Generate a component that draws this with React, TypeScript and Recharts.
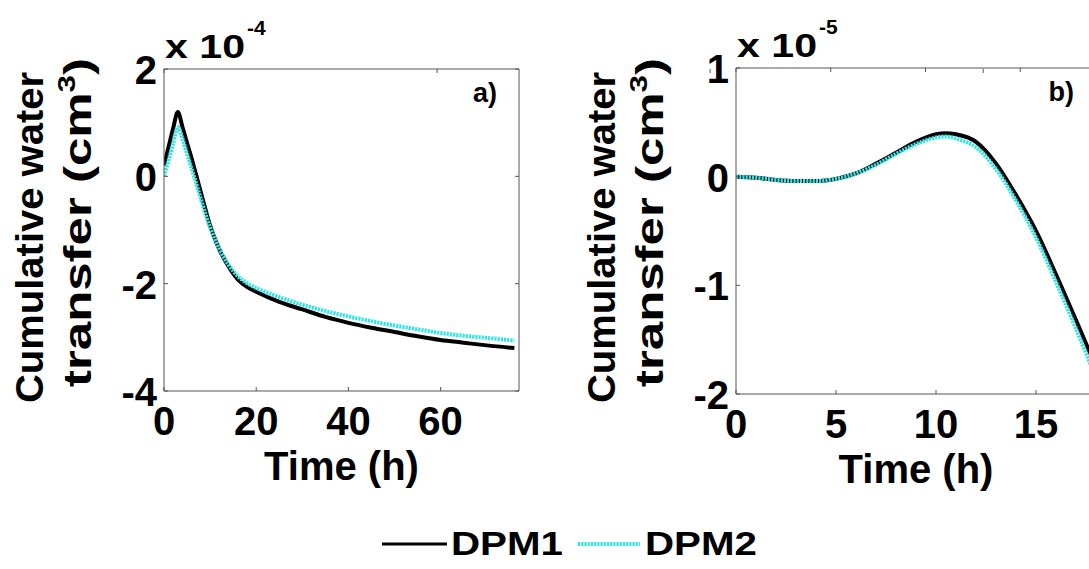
import React from "react";
import { LineChart, Line, XAxis, YAxis, Legend } from "recharts";

const FONT = "'Liberation Sans', Arial, Helvetica, sans-serif";
const AXIS = "#555";

// panel a) 0-77 h
const timeA = [0, 1, 2, 3, 4, 5, 6, 7, 8, 9, 10, 12, 14, 16, 18, 20, 25, 30, 35, 40, 45, 50, 55, 60, 65, 70, 76];
const dpm1A = [0.2, 0.55, 0.9, 1.2, 0.92, 0.62, 0.33, 0.02, -0.3, -0.62, -0.92, -1.36, -1.68, -1.92, -2.06, -2.15, -2.34, -2.48, -2.62, -2.73, -2.82, -2.9, -2.98, -3.05, -3.1, -3.15, -3.2];
const dpm2A = [0.0, 0.3, 0.62, 0.92, 0.7, 0.42, 0.14, -0.14, -0.42, -0.7, -0.95, -1.35, -1.65, -1.86, -1.99, -2.08, -2.25, -2.39, -2.51, -2.61, -2.7, -2.78, -2.85, -2.92, -2.97, -3.01, -3.06];

// panel b) 0-18 h
const timeB = [0, 1, 2, 3, 4, 5, 6, 7, 8, 9, 10, 10.5, 11, 12, 13, 14, 15, 16, 17, 18];
const dpm1B = [0, -0.01, -0.03, -0.04, -0.04, -0.02, 0.03, 0.12, 0.22, 0.32, 0.39, 0.4, 0.39, 0.32, 0.12, -0.17, -0.5, -0.9, -1.32, -1.75];
const dpm2B = [0, -0.01, -0.03, -0.04, -0.04, -0.02, 0.03, 0.11, 0.21, 0.3, 0.36, 0.37, 0.35, 0.27, 0.07, -0.22, -0.56, -0.97, -1.4, -1.85];

const xTicksA = [0, 20, 40, 60];
const yTicksA = [-4, -2, 0, 2];
const xTicksB = [0, 5, 10, 15];
const yTicksB = [-2, -1, 0, 1];

const series = [
  { key: "dpm1", name: "DPM1", color: "#000000", width: 4, dash: undefined as string | undefined },
  { key: "dpm2", name: "DPM2", color: "#33E3E3", width: 4, dash: "2.2 1" },
];

const dataA = timeA.map((t, i) => ({ t, dpm1: dpm1A[i], dpm2: dpm2A[i] }));
const dataB = timeB.map((t, i) => ({ t, dpm1: dpm1B[i], dpm2: dpm2B[i] }));

const tickFont = { fontFamily: FONT, fontWeight: 700, fontSize: 40, fill: "#000" };

function tick(side: "bottom" | "top" | "left" | "right", label: boolean) {
  return (p: any) => {
    const { x, y, payload } = p;
    const L = 4;
    let ln = null;
    if (side === "bottom") ln = <line x1={x} y1={y} x2={x} y2={y - L} stroke={AXIS} />;
    if (side === "top") ln = <line x1={x} y1={y} x2={x} y2={y + L} stroke={AXIS} />;
    if (side === "left") ln = <line x1={x} y1={y} x2={x + L} y2={y} stroke={AXIS} />;
    if (side === "right") ln = <line x1={x} y1={y} x2={x - L} y2={y} stroke={AXIS} />;
    return (
      <g>
        {ln}
        {label && side === "bottom" && (
          <text x={x} y={y + 44} textAnchor="middle" {...tickFont}>{payload.value}</text>
        )}
        {label && side === "left" && (
          <text x={x - 7} y={y + 15} textAnchor="end" {...tickFont}>{payload.value}</text>
        )}
      </g>
    );
  };
}

const renderLegend = (props: any) => {
  const items = (props.payload || []).map((p: any) => series.find((s) => s.name === p.value)!);
  const pos = [
    { x1: 382, x2: 447, tx: 451 },
    { x1: 578, x2: 640, tx: 645 },
  ];
  return (
    <svg width={1089} height={50}>
      {items.map((s: any, i: number) => (
        <g key={s.key}>
          <line x1={pos[i].x1} y1={29} x2={pos[i].x2} y2={29} stroke={s.color} strokeWidth={s.dash ? 4 : 3} strokeDasharray={s.dash} />
          <text x={pos[i].tx} y={40} fontFamily={FONT} fontWeight={700} fontSize={33} textLength={112} lengthAdjust="spacingAndGlyphs" fill="#000">
            {s.name}
          </text>
        </g>
      ))}
    </svg>
  );
};

interface PanelProps {
  data: { t: number; dpm1: number; dpm2: number }[];
  xDomain: [number, number];
  xTicks: number[];
  yDomain: [number, number];
  yTicks: number[];
  left: number;
  right: number;
  top: number;
  bottom: number;
  width: number;
  exponent: string;
  tag: string;
  legend?: boolean;
}

function Panel(p: PanelProps) {
  const H = 569;
  const cy1 = 237.5;
  const cy2 = 222.5;
  const lx1 = p.left - 121;
  const lx2 = p.left - 73;
  return (
    <div style={{ position: "absolute", left: 0, top: 0 }}>
      <LineChart
        width={p.width}
        height={H}
        data={p.data}
        margin={{ left: p.left - 1, right: p.width - p.right - 1, top: p.top - 1, bottom: H - p.bottom - 1 }}
      >
        <XAxis dataKey="t" type="number" domain={p.xDomain} ticks={p.xTicks} allowDataOverflow height={1} tickSize={0} tickMargin={0} tickLine={false} axisLine={{ stroke: AXIS }} tick={tick("bottom", true)} interval={0} />
        <XAxis xAxisId="top" orientation="top" type="number" domain={p.xDomain} ticks={p.xTicks} allowDataOverflow height={1} tickSize={0} tickMargin={0} tickLine={false} axisLine={{ stroke: AXIS }} tick={tick("top", false)} interval={0} />
        <YAxis type="number" domain={p.yDomain} ticks={p.yTicks} allowDataOverflow width={1} tickSize={0} tickMargin={0} tickLine={false} axisLine={{ stroke: AXIS }} tick={tick("left", true)} interval={0} />
        <YAxis yAxisId="right" orientation="right" type="number" domain={p.yDomain} ticks={p.yTicks} allowDataOverflow width={1} tickSize={0} tickMargin={0} tickLine={false} axisLine={{ stroke: AXIS }} tick={tick("right", false)} interval={0} />
        {series.map((s) => (
          <Line
            key={s.key}
            type="monotone"
            dataKey={s.key}
            name={s.name}
            stroke={s.color}
            strokeWidth={s.width}
            strokeDasharray={s.dash}
            dot={false}
            activeDot={false}
            isAnimationActive={false}
          />
        ))}
        {p.legend && (
          <Legend
            layout="horizontal"
            verticalAlign="middle"
            align="center"
            content={renderLegend}
            wrapperStyle={{ left: 0, top: 515, width: 1089, height: 50 }}
          />
        )}
        {/* multiplier */}
        <text x={p.left + 1} y={p.top - 11} fontFamily={FONT} fontWeight={700} fontSize={34} textLength={80} lengthAdjust="spacingAndGlyphs" fill="#000">x 10</text>
        <text x={p.left + 83} y={p.top - 34} fontFamily={FONT} fontWeight={700} fontSize={21} fill="#000">{p.exponent}</text>
        {/* panel tag */}
        <text x={p.right - 22} y={p.top + 33} textAnchor="end" fontFamily={FONT} fontWeight={700} fontSize={27} fill="#000">{p.tag}</text>
        {/* y label */}
        <text x={lx1} y={cy1} transform={`rotate(-90 ${lx1} ${cy1})`} textAnchor="middle" fontFamily={FONT} fontWeight={700} fontSize={39} textLength={331} lengthAdjust="spacingAndGlyphs" fill="#000">
          Cumulative water
        </text>
        <text x={lx2} y={cy2} transform={`rotate(-90 ${lx2} ${cy2})`} textAnchor="middle" fontFamily={FONT} fontWeight={700} fontSize={39} textLength={329} lengthAdjust="spacingAndGlyphs" fill="#000">
          transfer (cm<tspan fontSize={24} dy={-16}>3</tspan><tspan dy={16}>)</tspan>
        </text>
        {/* x label */}
        <text x={(p.left + p.right) / 2} y={p.bottom + 89} textAnchor="middle" fontFamily={FONT} fontWeight={700} fontSize={40} fill="#000">
          Time (h)
        </text>
      </LineChart>
    </div>
  );
}

export default function App() {
  return (
    <div style={{ position: "fixed", left: 0, top: 0, width: 1089, height: 569, overflow: "hidden", background: "#fff" }}>
      <Panel data={dataA} xDomain={[0, 77]} xTicks={xTicksA} yDomain={[-4, 2]} yTicks={yTicksA} left={164} right={519} top={69} bottom={391} width={1089} exponent="-4" tag="a)" legend />
      <Panel data={dataB} xDomain={[0, 18]} xTicks={xTicksB} yDomain={[-2, 1]} yTicks={yTicksB} left={736} right={1096} top={68} bottom={394} width={1200} exponent="-5" tag="b)" />
    </div>
  );
}
